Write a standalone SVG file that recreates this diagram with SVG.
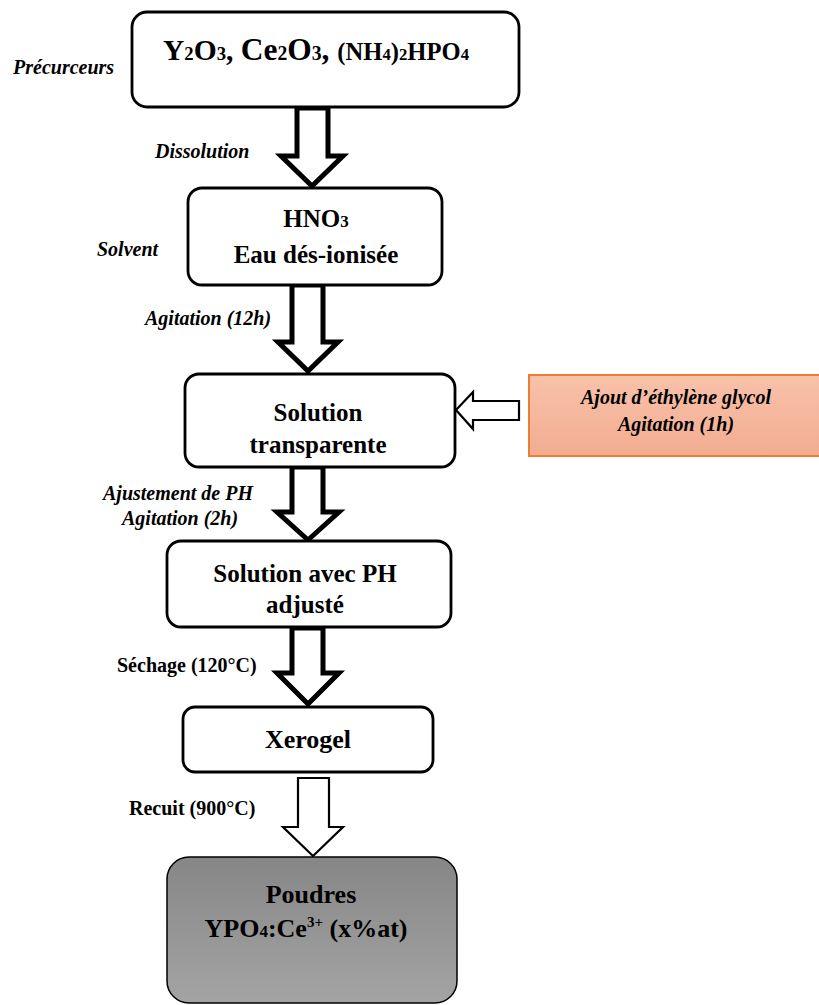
<svg xmlns="http://www.w3.org/2000/svg" width="819" height="1005" viewBox="0 0 819 1005">
<defs>
<linearGradient id="gOr" x1="0" y1="0" x2="0" y2="1"><stop offset="0" stop-color="#f8c2aa"/><stop offset="1" stop-color="#f2ac90"/></linearGradient>
<linearGradient id="gGr" x1="0" y1="0" x2="0" y2="1"><stop offset="0" stop-color="#868686"/><stop offset="1" stop-color="#a4a4a4"/></linearGradient>
<style>
.box{fill:#fff;stroke:#000;stroke-width:2.8}
.t{font-family:'Liberation Serif',serif;font-weight:bold;fill:#000;text-anchor:middle}
.bt{font-size:25px}
.lb{font-family:'Liberation Serif',serif;font-weight:bold;font-size:20px;fill:#000}
.it{font-style:italic}
.thick{fill:#fff;stroke:#000;stroke-width:5;stroke-linejoin:miter}
.thin{fill:#fff;stroke:#000;stroke-width:2.2;stroke-linejoin:miter}
</style>
</defs>
<g id="connectors">
<polygon class="thick" points="297,108 328,108 328,156 343,156 312,186 281,156 297,156"/>
<polygon class="thick" points="292,285 323,285 323,342 338,342 308,371 278,342 292,342"/>
<polygon class="thick" points="292,467 323,467 323,512 339,512 308,540 277,512 292,512"/>
<polygon class="thick" points="292,628 323,628 323,673 339,673 308,704 277,673 292,673"/>
<polygon class="thin" points="298,778 329,778 329,827 343,827 313,856 283,827 298,827"/>
<polygon class="thin" points="519,401 473,401 473,392 456,410 473,429 473,420 519,420"/>
</g>
<g id="n-precurseurs">
<rect class="box" x="132" y="12" width="387" height="95" rx="15"/>
<text class="t" text-anchor="start" x="163" y="60" textLength="306" lengthAdjust="spacingAndGlyphs" style="text-anchor:start"><tspan font-size="30">Y</tspan><tspan font-size="19">2</tspan><tspan font-size="30">O</tspan><tspan font-size="19">3</tspan><tspan font-size="30">, </tspan><tspan font-size="32">Ce</tspan><tspan font-size="20">2</tspan><tspan font-size="32">O</tspan><tspan font-size="20">3</tspan><tspan font-size="32">, </tspan><tspan font-size="25">(NH</tspan><tspan font-size="17">4</tspan><tspan font-size="25">)</tspan><tspan font-size="17">2</tspan><tspan font-size="25">HPO</tspan><tspan font-size="17">4</tspan></text>
</g>
<g id="n-solvent">
<rect class="box" x="188" y="188" width="254" height="97" rx="14"/>
<text class="t bt" x="316" y="227">HNO<tspan font-size="17">3</tspan></text>
<text class="t bt" x="316" y="263">Eau dés-ionisée</text>
</g>
<g id="n-solution">
<rect class="box" x="185" y="374" width="270" height="93" rx="14"/>
<text class="t bt" x="318" y="421">Solution</text>
<text class="t bt" x="318" y="453">transparente</text>
</g>
<g id="n-ajout">
<rect x="529" y="375" width="292" height="81" fill="url(#gOr)" stroke="#ed7d31" stroke-width="2"/>
<text class="t it" font-size="20" x="676" y="404">Ajout d’éthylène glycol</text>
<text class="t it" font-size="20" x="676" y="431">Agitation (1h)</text>
</g>
<g id="n-ph">
<rect class="box" x="167" y="541" width="284" height="86" rx="14"/>
<text class="t bt" x="305" y="582">Solution avec PH</text>
<text class="t bt" x="305" y="613">adjusté</text>
</g>
<g id="n-xerogel">
<rect class="box" x="183" y="707" width="250" height="65" rx="12"/>
<text class="t" font-size="26" x="308" y="748">Xerogel</text>
</g>
<g id="n-poudres">
<rect x="167" y="857" width="290" height="146" rx="22" fill="url(#gGr)" stroke="#000" stroke-width="1.5"/>
<text class="t" font-size="26" x="311" y="903">Poudres</text>
<text class="t" font-size="26" x="306" y="937">YPO<tspan font-size="17">4</tspan>:Ce<tspan font-size="15" dy="-10">3+</tspan><tspan dy="10"> (x%at)</tspan></text>
</g>
<g id="labels">
<text class="lb it" x="13" y="74">Précurceurs</text>
<text class="lb it" x="155" y="158">Dissolution</text>
<text class="lb it" x="97" y="256">Solvent</text>
<text class="lb it" font-size="19" x="145" y="325">Agitation (12h)</text>
<text class="lb it" x="103" y="500">Ajustement de PH</text>
<text class="lb it" x="122" y="525">Agitation (2h)</text>
<text class="lb" font-size="19.5" x="117" y="672">Séchage (120°C)</text>
<text class="lb" x="129" y="815">Recuit (900°C)</text>
</g>
</svg>
